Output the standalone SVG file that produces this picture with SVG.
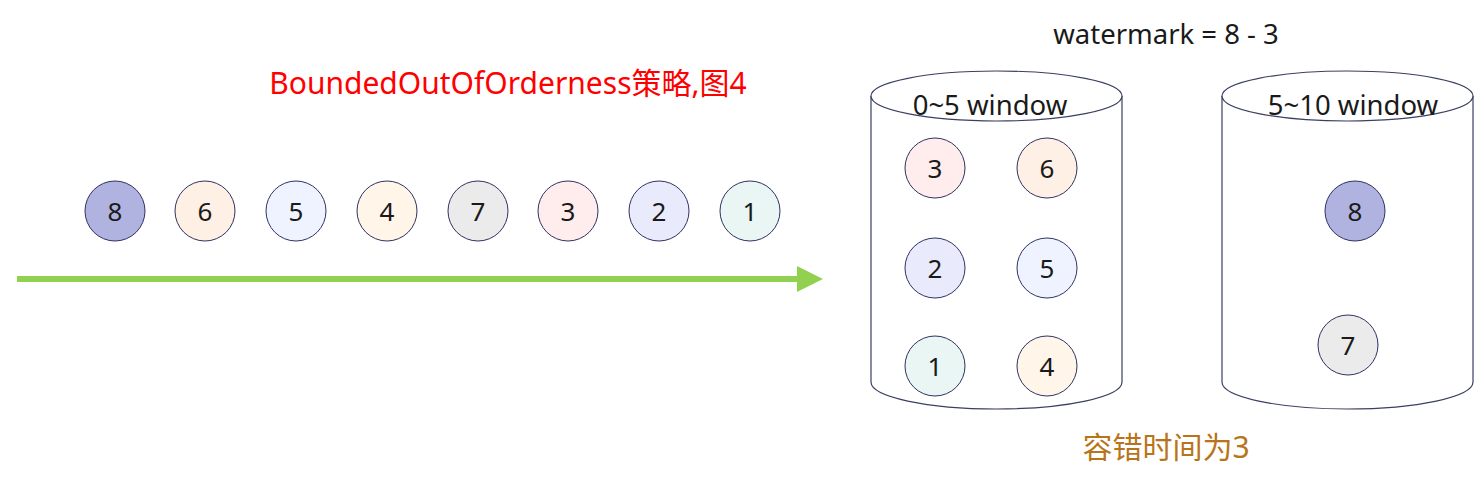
<svg xmlns="http://www.w3.org/2000/svg" width="1476" height="482" viewBox="0 0 1476 482">
<style>
.c{stroke:#2E3260;stroke-width:1}
.n{font-family:"Noto Sans","Liberation Sans","Noto Sans CJK SC",sans-serif;font-size:26px;fill:#1a1a1a;text-anchor:middle;dominant-baseline:central}
.cyl{fill:#fff;stroke:#3A3F63;stroke-width:1.2}
.lbl{font-family:"Noto Sans","Liberation Sans","Noto Sans CJK SC",sans-serif;font-size:27.5px;fill:#1a1a1a;text-anchor:middle;dominant-baseline:central}
.f8{fill:#B0B3E0}.f6{fill:#FFF0E6}.f5{fill:#EEF3FF}.f4{fill:#FFF6E9}.f7{fill:#EBEBEB}.f3{fill:#FFECEC}.f2{fill:#E9EBFC}.f1{fill:#E9F6F3}
</style>
<defs>
<marker id="ah" markerWidth="26" markerHeight="26" viewBox="0 0 26 26" refX="0" refY="13" orient="auto" markerUnits="userSpaceOnUse">
<path d="M0,0 L26,13 L0,26 Z" fill="#92D050"/>
</marker>
</defs>
<text x="508" y="82" font-family="Noto Sans,Liberation Sans,Noto Sans CJK SC,sans-serif" font-size="30" fill="#FF0000" text-anchor="middle" dominant-baseline="central">BoundedOutOfOrderness策略,图4</text>
<text x="1166" y="33" class="lbl" font-size="27">watermark = 8 - 3</text>
<text x="1166" y="446" font-family="Noto Sans,Liberation Sans,Noto Sans CJK SC,sans-serif" font-size="30" fill="#B8741A" text-anchor="middle" dominant-baseline="central">容错时间为3</text>
<g id="connectors">
<line x1="17" y1="279" x2="797" y2="279" stroke="#92D050" stroke-width="6" marker-end="url(#ah)"/>
</g>
<g id="window1">
<path class="cyl" d="M871,96 L871,382 A125.5,27 0 0 0 1122,382 L1122,96"/>
<ellipse class="cyl" cx="996.5" cy="96" rx="125.5" ry="25"/>
<text x="990" y="104" class="lbl">0~5 window</text>
</g>
<g id="window2">
<path class="cyl" d="M1222,96 L1222,382 A125.5,27 0 0 0 1473,382 L1473,96"/>
<ellipse class="cyl" cx="1347.5" cy="96" rx="125.5" ry="25"/>
<text x="1353" y="104" class="lbl">5~10 window</text>
</g>
<g id="e8"><circle class="c f8" cx="115" cy="211" r="30"/><text class="n" x="115" y="211">8</text></g>
<g id="e6"><circle class="c f6" cx="205" cy="211" r="30"/><text class="n" x="205" y="211">6</text></g>
<g id="e5"><circle class="c f5" cx="296" cy="211" r="30"/><text class="n" x="296" y="211">5</text></g>
<g id="e4"><circle class="c f4" cx="387" cy="211" r="30"/><text class="n" x="387" y="211">4</text></g>
<g id="e7"><circle class="c f7" cx="478" cy="211" r="30"/><text class="n" x="478" y="211">7</text></g>
<g id="e3"><circle class="c f3" cx="568" cy="211" r="30"/><text class="n" x="568" y="211">3</text></g>
<g id="e2"><circle class="c f2" cx="659" cy="211" r="30"/><text class="n" x="659" y="211">2</text></g>
<g id="e1"><circle class="c f1" cx="750" cy="211" r="30"/><text class="n" x="750" y="211">1</text></g>
<g id="w1-3"><circle class="c f3" cx="935" cy="168" r="30"/><text class="n" x="935" y="168">3</text></g>
<g id="w1-6"><circle class="c f6" cx="1047" cy="168" r="30"/><text class="n" x="1047" y="168">6</text></g>
<g id="w1-2"><circle class="c f2" cx="935" cy="268" r="30"/><text class="n" x="935" y="268">2</text></g>
<g id="w1-5"><circle class="c f5" cx="1047" cy="268" r="30"/><text class="n" x="1047" y="268">5</text></g>
<g id="w1-1"><circle class="c f1" cx="935" cy="366" r="30"/><text class="n" x="935" y="366">1</text></g>
<g id="w1-4"><circle class="c f4" cx="1047" cy="366" r="30"/><text class="n" x="1047" y="366">4</text></g>
<g id="w2-8"><circle class="c f8" cx="1355" cy="211" r="30"/><text class="n" x="1355" y="211">8</text></g>
<g id="w2-7"><circle class="c f7" cx="1348" cy="345" r="30"/><text class="n" x="1348" y="345">7</text></g>
</svg>
